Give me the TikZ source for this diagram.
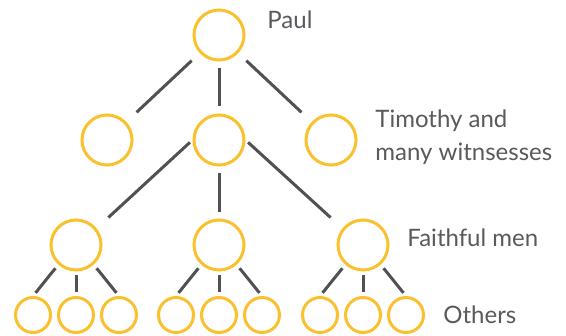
\documentclass[tikz,border=0pt]{standalone}
\usepackage{fontspec}
\setmainfont{Lato}
\definecolor{gold}{HTML}{FBC02D}
\definecolor{edgegray}{HTML}{505055}
\definecolor{textgray}{HTML}{5A5A5E}
\tikzset{
  big/.style={circle,draw=gold,line width=1.5pt,minimum size=25pt,inner sep=0pt},
  small/.style={circle,draw=gold,line width=1.5pt,minimum size=17.5pt,inner sep=0pt},
  tag/.style={anchor=base west,text=textgray,inner sep=0pt,align=left,
    font=\fontsize{12}{16.7}\selectfont},
  link/.style={draw=edgegray,line width=1.5pt}
}
\begin{document}
\begin{tikzpicture}[x=0.5pt,y=-0.5pt]
      \useasboundingbox (0,0) rectangle (566,336);
      \draw
        (219,35) node[big] (paul){}
        (107,140) node[big] (t1){}
        (219,140) node[big] (t2){}
        (331,140) node[big] (t3){}
        (76,245) node[big] (f1){}
        (219,245) node[big] (f2){}
        (363,245) node[big] (f3){}
        (33,315) node[small] (o1){}
        (76,315) node[small] (o2){}
        (119,315) node[small] (o3){}
        (176,315) node[small] (o4){}
        (219,315) node[small] (o5){}
        (262,315) node[small] (o6){}
        (320,315) node[small] (o7){}
        (363,315) node[small] (o8){}
        (406,315) node[small] (o9){};
      \draw
        (267,29) node[tag] (lpaul){Paul}
        (375,161) node[tag] (ltim){Timothy and\\many witnsesses}
        (407,246) node[tag] (lfaith){Faithful men}
        (443,323) node[tag] (lothers){Others};
      \begin{scope}[link]
        \draw[shorten <=5.5pt,shorten >=7pt] (paul) to (t1);
        \draw[shorten <=3.5pt,shorten >=3.5pt] (paul) to (t2);
        \draw[shorten <=5.5pt,shorten >=7pt] (paul) to (t3);
        \draw[shorten <=1.75pt,shorten >=8pt] (t2.west) to (f1.39);
        \draw[shorten <=3.5pt,shorten >=3.5pt] (t2) to (f2);
        \draw[shorten <=1.75pt,shorten >=8pt] (t2.east) to (f3.141);
        \draw[shorten <=2.3pt,shorten >=2pt] (f1.228) to (o1.north);
        \draw[shorten <=1.75pt,shorten >=2pt] (f1) to (o2);
        \draw[shorten <=2.3pt,shorten >=2pt] (f1.312) to (o3.north);
        \draw[shorten <=2.3pt,shorten >=2pt] (f2.228) to (o4.north);
        \draw[shorten <=1.75pt,shorten >=2pt] (f2) to (o5);
        \draw[shorten <=2.3pt,shorten >=2pt] (f2.312) to (o6.north);
        \draw[shorten <=2.3pt,shorten >=2pt] (f3.228) to (o7.north);
        \draw[shorten <=1.75pt,shorten >=2pt] (f3) to (o8);
        \draw[shorten <=2.3pt,shorten >=2pt] (f3.312) to (o9.north);
      \end{scope}
    \end{tikzpicture}
\end{document}
